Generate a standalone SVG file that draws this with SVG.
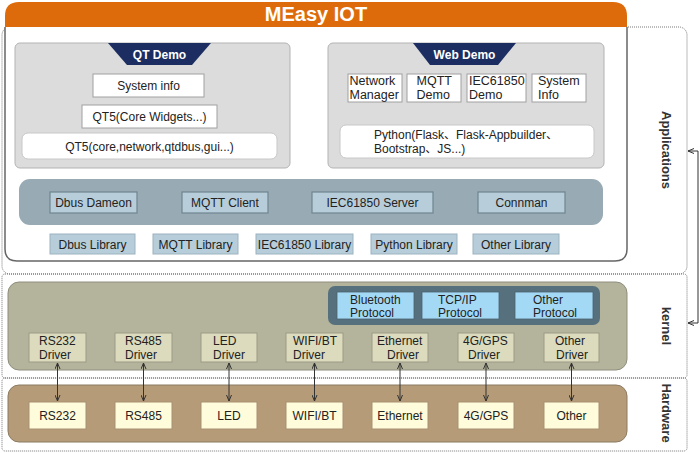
<svg xmlns="http://www.w3.org/2000/svg" width="700" height="453" viewBox="0 0 700 453">
<defs>
<style>
text{font-family:"Liberation Sans",Arial,"Noto Sans CJK SC",sans-serif;font-size:12px;fill:#222}
.c{text-anchor:middle}
.b{font-weight:bold}
.dot{fill:none;stroke:#777;stroke-width:1;stroke-dasharray:1 1}
.demo{fill:#dcdcdc;stroke:#b3b3b3;stroke-width:1}
.wbox{fill:#fff;stroke:#a0a0a0;stroke-width:1}
.rbox{fill:#fff;stroke:#c8c8c8;stroke-width:1}
.svc{fill:#b7cdd9;stroke:#6e8590;stroke-width:1.2}
.lib{fill:#b7cdd9;stroke:#9bb3c0;stroke-width:1}
.proto{fill:#a4d9f6;stroke:#4b636e;stroke-width:0.8}
.drv{fill:#dcdbbd;stroke:#9c9b85;stroke-width:1}
.hw{fill:#fffcdb;stroke:#a89170;stroke-width:1}
.conn{fill:none;stroke:#333;stroke-width:1}
.side{font-size:13px;font-weight:bold;fill:#333}
</style>
<marker id="ah" viewBox="0 0 6 6" refX="6" refY="3" markerWidth="6" markerHeight="6" markerUnits="userSpaceOnUse" orient="auto-start-reverse">
<path d="M0,0.5 L6,3 L0,5.5" fill="none" stroke="#333" stroke-width="1"/>
</marker>
</defs>

<!-- section frames -->
<g id="sections">
<rect class="dot" x="2" y="27" width="685" height="247" rx="8"/>
<rect class="dot" x="2" y="274" width="685" height="104" rx="3"/>
<rect class="dot" x="2" y="378" width="685" height="73" rx="3"/>
<text class="side c" transform="translate(666,150) rotate(90)" dominant-baseline="central">Applications</text>
<text class="side c" transform="translate(666,326) rotate(90)" dominant-baseline="central">kernel</text>
<text class="side c" transform="translate(666,413) rotate(90)" dominant-baseline="central">Hardware</text>
</g>

<!-- main frame -->
<g id="main">
<path d="M5,27 V249 Q5,261 17,261 H615 Q627,261 627,249 V27" fill="#fff" stroke="#666" stroke-width="1.5"/>
<path d="M5,27 V16 Q5,2 19,2 H613 Q627,2 627,16 V27 Z" fill="#dd6b0c"/>
<text class="c b" x="316" y="21" style="font-size:20px;fill:#fff">MEasy IOT</text>
</g>

<!-- QT Demo -->
<g id="qt-demo">
<rect class="demo" x="15" y="43" width="275" height="125" rx="5"/>
<path d="M108,43 H211 L192,65 H127 Z" fill="#1c2e61"/>
<text class="c b" x="159.5" y="58.5" style="fill:#fff">QT Demo</text>
</g>
<g id="qt-sysinfo">
<rect class="wbox" x="93" y="74" width="111" height="23"/>
<text class="c" x="148.5" y="90">System info</text>
</g>
<g id="qt-widgets">
<rect class="wbox" x="82" y="105" width="135" height="23"/>
<text class="c" x="149.5" y="121">QT5(Core Widgets...)</text>
</g>
<g id="qt5-core">
<rect class="rbox" x="22" y="133" width="255" height="26" rx="6"/>
<text class="c" x="149.5" y="150.5">QT5(core,network,qtdbus,gui...)</text>
</g>

<!-- Web Demo -->
<g id="web-demo">
<rect class="demo" x="328" y="43" width="276" height="125" rx="5"/>
<path d="M413,43 H516 L498,65 H430 Z" fill="#1c2e61"/>
<text class="c b" x="464.5" y="58.5" style="fill:#fff">Web Demo</text>
</g>
<g id="web-netmgr">
<rect class="wbox" x="348" y="74" width="54" height="28"/>
<text x="349.5" y="85" style="font-size:12.5px">Network</text>
<text x="349.5" y="99" style="font-size:12.5px">Manager</text>
</g>
<g id="web-mqtt">
<rect class="wbox" x="407" y="74" width="54" height="28"/>
<text x="416.5" y="85" style="font-size:12.5px">MQTT</text>
<text x="416.5" y="99" style="font-size:12.5px">Demo</text>
</g>
<g id="web-iec">
<rect class="wbox" x="467" y="74" width="59" height="28"/>
<text x="469" y="85" style="font-size:12.5px">IEC61850</text>
<text x="469" y="99" style="font-size:12.5px">Demo</text>
</g>
<g id="web-sysinfo">
<rect class="wbox" x="532" y="74" width="54" height="28"/>
<text x="538" y="85" style="font-size:12.5px">System</text>
<text x="538" y="99" style="font-size:12.5px">Info</text>
</g>
<g id="web-python">
<rect class="rbox" x="340" y="125" width="254" height="33" rx="6"/>
<text x="374" y="139">Python(Flask、Flask-Appbuilder、</text>
<text x="374" y="153">Bootstrap、JS...)</text>
</g>

<!-- Services bar -->
<g id="services">
<rect x="19" y="179" width="584" height="46" rx="11" fill="#98aab4"/>
</g>
<g id="dbus-dameon">
<rect class="svc" x="50" y="192" width="87" height="21"/>
<text class="c" x="93.5" y="207">Dbus Dameon</text>
</g>
<g id="mqtt-client">
<rect class="svc" x="182" y="192" width="86" height="21"/>
<text class="c" x="225" y="207">MQTT Client</text>
</g>
<g id="iec-server">
<rect class="svc" x="312" y="192" width="121" height="21"/>
<text class="c" x="372.5" y="207">IEC61850 Server</text>
</g>
<g id="connman">
<rect class="svc" x="478" y="192" width="87" height="21"/>
<text class="c" x="521.5" y="207">Connman</text>
</g>

<!-- Libraries -->
<g id="dbus-lib">
<rect class="lib" x="50" y="234" width="85" height="20"/>
<text class="c" x="92.5" y="248.5">Dbus Library</text>
</g>
<g id="mqtt-lib">
<rect class="lib" x="153" y="234" width="85" height="20"/>
<text class="c" x="195.5" y="248.5">MQTT Library</text>
</g>
<g id="iec-lib">
<rect class="lib" x="256" y="234" width="97" height="20"/>
<text class="c" x="304.5" y="248.5">IEC61850 Library</text>
</g>
<g id="python-lib">
<rect class="lib" x="371" y="234" width="86" height="20"/>
<text class="c" x="414" y="248.5">Python Library</text>
</g>
<g id="other-lib">
<rect class="lib" x="473" y="234" width="86" height="20"/>
<text class="c" x="516" y="248.5">Other Library</text>
</g>

<!-- Kernel -->
<g id="kernel">
<rect x="8" y="282" width="619" height="88" rx="11" fill="#b4b39c" stroke="#8f8e7e" stroke-width="1"/>
<rect x="328" y="286" width="272" height="39" rx="7" fill="#56717d"/>
</g>
<g id="bt-proto">
<rect class="proto" x="337" y="292" width="77" height="27"/>
<text x="350" y="303.5">Bluetooth</text>
<text x="350" y="317">Protocol</text>
</g>
<g id="tcp-proto">
<rect class="proto" x="422" y="292" width="77" height="27"/>
<text x="438" y="303.5">TCP/IP</text>
<text x="438" y="317">Protocol</text>
</g>
<g id="other-proto">
<rect class="proto" x="515" y="292" width="78" height="27"/>
<text x="533" y="303.5">Other</text>
<text x="533" y="317">Protocol</text>
</g>
<g id="rs232-drv">
<rect class="drv" x="29" y="333" width="57" height="29"/>
<text x="39" y="345">RS232</text><text x="39" y="358.5">Driver</text>
</g>
<g id="rs485-drv">
<rect class="drv" x="115" y="333" width="57" height="29"/>
<text x="125" y="345">RS485</text><text x="125" y="358.5">Driver</text>
</g>
<g id="led-drv">
<rect class="drv" x="201" y="333" width="56" height="29"/>
<text x="213" y="345">LED</text><text x="213" y="358.5">Driver</text>
</g>
<g id="wifi-drv">
<rect class="drv" x="286" y="333" width="57" height="29"/>
<text x="293" y="345">WIFI/BT</text><text x="293" y="358.5">Driver</text>
</g>
<g id="eth-drv">
<rect class="drv" x="372" y="333" width="56" height="29"/>
<text x="377" y="345">Ethernet</text><text x="387" y="358.5">Driver</text>
</g>
<g id="gps-drv">
<rect class="drv" x="458" y="333" width="56" height="29"/>
<text x="463" y="345">4G/GPS</text><text x="468" y="358.5">Driver</text>
</g>
<g id="other-drv">
<rect class="drv" x="544" y="333" width="55" height="29"/>
<text x="555" y="345">Other</text><text x="556" y="358.5">Driver</text>
</g>

<!-- Hardware -->
<g id="hardware">
<rect x="8" y="385" width="619" height="57" rx="11" fill="#b59b78" stroke="#8c7a62" stroke-width="1"/>
</g>
<g id="rs232-hw"><rect class="hw" x="29" y="402" width="57" height="27"/><text class="c" x="57.5" y="420">RS232</text></g>
<g id="rs485-hw"><rect class="hw" x="115" y="402" width="57" height="27"/><text class="c" x="143.5" y="420">RS485</text></g>
<g id="led-hw"><rect class="hw" x="201" y="402" width="56" height="27"/><text class="c" x="229" y="420">LED</text></g>
<g id="wifi-hw"><rect class="hw" x="286" y="402" width="57" height="27"/><text class="c" x="314.5" y="420">WIFI/BT</text></g>
<g id="eth-hw"><rect class="hw" x="372" y="402" width="56" height="27"/><text class="c" x="400" y="420">Ethernet</text></g>
<g id="gps-hw"><rect class="hw" x="458" y="402" width="56" height="27"/><text class="c" x="486" y="420">4G/GPS</text></g>
<g id="other-hw"><rect class="hw" x="544" y="402" width="55" height="27"/><text class="c" x="571.5" y="420">Other</text></g>

<!-- connectors -->
<g id="connectors">
<line class="conn" x1="57.5" y1="363" x2="57.5" y2="401" marker-start="url(#ah)" marker-end="url(#ah)"/>
<line class="conn" x1="143.5" y1="363" x2="143.5" y2="401" marker-start="url(#ah)" marker-end="url(#ah)"/>
<line class="conn" x1="229" y1="363" x2="229" y2="401" marker-start="url(#ah)" marker-end="url(#ah)"/>
<line class="conn" x1="314.5" y1="363" x2="314.5" y2="401" marker-start="url(#ah)" marker-end="url(#ah)"/>
<line class="conn" x1="400" y1="363" x2="400" y2="401" marker-start="url(#ah)" marker-end="url(#ah)"/>
<line class="conn" x1="486" y1="363" x2="486" y2="401" marker-start="url(#ah)" marker-end="url(#ah)"/>
<line class="conn" x1="571.5" y1="363" x2="571.5" y2="401" marker-start="url(#ah)" marker-end="url(#ah)"/>
<path class="conn" d="M688,151 H698 V323 H688" marker-start="url(#ah)" marker-end="url(#ah)"/>
</g>
</svg>
